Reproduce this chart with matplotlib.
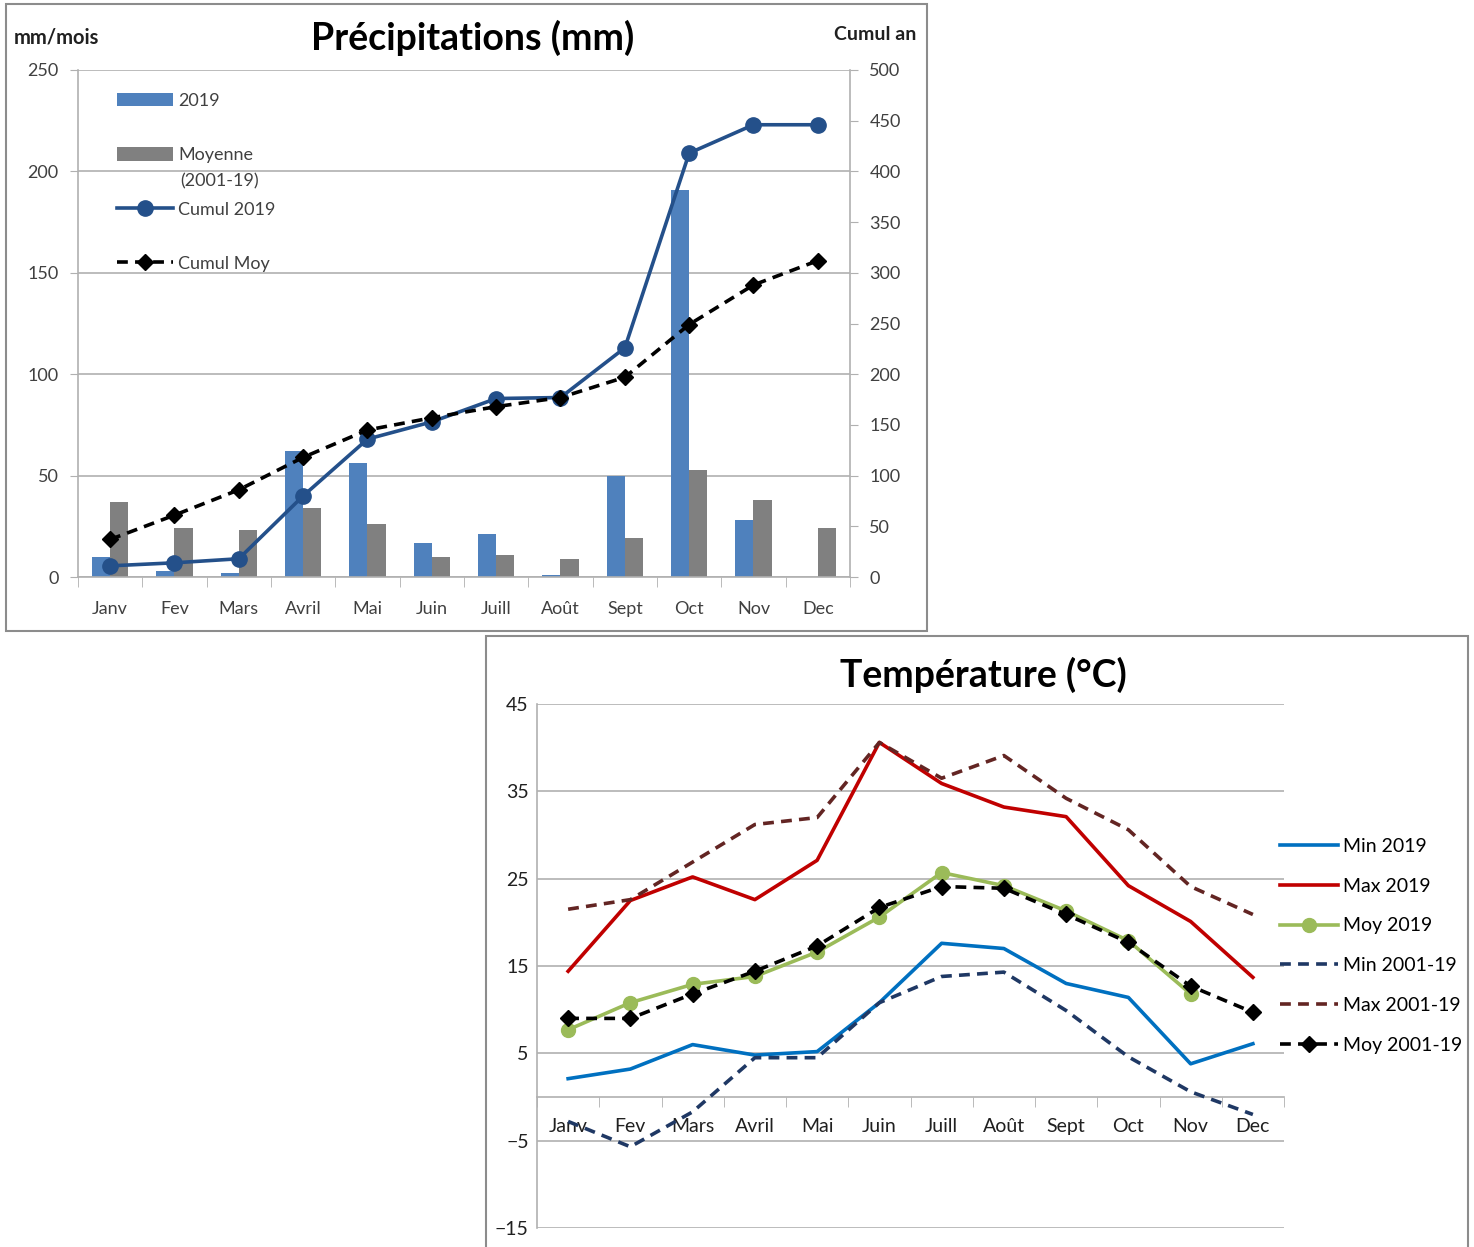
import numpy as np
import matplotlib
matplotlib.use('Agg')
import matplotlib.pyplot as plt
from matplotlib.patches import Rectangle

plt.rcParams['font.family'] = ['Lato', 'DejaVu Sans']

mois = ['Janv', 'Fev', 'Mars', 'Avril', 'Mai', 'Juin', 'Juill', 'Août', 'Sept', 'Oct', 'Nov', 'Dec']

# precipitations (mm/mois)
pluie_2019 = [10, 3, 2, 62, 56, 17, 21, 1, 50, 191, 28, 0]
pluie_moy = [37, 24, 23, 34, 26, 10, 11, 9, 19, 53, 38, 24]
# cumul annuel (axe droit)
cumul_2019 = [11, 14, 18, 80, 136, 153, 176, 177, 226, 418, 446, 446]
cumul_moy = [37, 61, 86, 118, 145, 157, 168, 177, 197, 249, 288, 312]

# temperatures (°C)
tmin_2019 = [2.1, 3.2, 6.0, 4.8, 5.2, 10.8, 17.6, 17.0, 13.0, 11.4, 3.8, 6.1]
tmax_2019 = [14.4, 22.5, 25.2, 22.6, 27.1, 40.6, 35.9, 33.2, 32.1, 24.2, 20.1, 13.7]
tmoy_2019 = [7.7, 10.8, 12.9, 13.8, 16.6, 20.6, 25.7, 24.2, 21.3, 17.9, 11.8, np.nan]
tmin_moy = [-2.8, -5.7, -1.7, 4.5, 4.5, 10.8, 13.8, 14.3, 9.9, 4.6, 0.6, -2.0]
tmax_moy = [21.5, 22.6, 26.9, 31.2, 32.0, 40.6, 36.5, 39.1, 34.2, 30.6, 24.1, 20.9]
tmoy_moy = [9.0, 9.0, 11.8, 14.4, 17.3, 21.7, 24.1, 23.9, 20.9, 17.7, 12.7, 9.7]

W, H = 1474, 1247
fig = plt.figure(figsize=(W / 100, H / 100), dpi=100)

def fx(px):
    return px / W

def fy(py):
    return 1 - py / H

# chart frames
fig.patches.append(Rectangle((fx(6), fy(631)), fx(921), 627 / H, transform=fig.transFigure,
                             fill=False, edgecolor='#8c8c8c', lw=1.5))
fig.patches.append(Rectangle((fx(486), fy(1250)), fx(982), 614 / H, transform=fig.transFigure,
                             fill=False, edgecolor='#8c8c8c', lw=1.5))

grid_c = '#b0b0b0'
x = np.arange(len(mois))

# ---------------- Precipitations ----------------
ax = fig.add_axes([fx(78), fy(577), fx(772), 507 / H])
bw = 0.28
b1 = ax.bar(x - bw / 2, pluie_2019, bw, color='#4F81BD', label='2019', zorder=2)
b2 = ax.bar(x + bw / 2, pluie_moy, bw, color='#808080', label='Moyenne', zorder=2)
ax.set_xlim(-0.5, 11.5)
ax.set_ylim(0, 250)
ax.set_yticks(range(0, 251, 50))
ax.yaxis.grid(True, color=grid_c, lw=1.2)
ax.set_axisbelow(True)
ax.set_xticks(x)
ax.set_xticklabels(mois)
ax.set_xticks(np.arange(-0.5, 12, 1), minor=True)
ax.tick_params(axis='x', which='major', length=0, pad=17, labelsize=13, labelcolor='#404040')
ax.tick_params(axis='x', which='minor', length=7, color=grid_c, direction='out')
ax.tick_params(axis='y', length=6, color=grid_c, labelsize=13, labelcolor='#404040', pad=8)
for s in ['top', 'right']:
    ax.spines[s].set_visible(False)
for s in ['left', 'bottom']:
    ax.spines[s].set_color(grid_c)
    ax.spines[s].set_linewidth(1.2)

ax2 = ax.twinx()
l1, = ax2.plot(x, cumul_2019, color='#24508A', lw=2.6, marker='o', ms=11, label='Cumul 2019', zorder=3)
l2, = ax2.plot(x, cumul_moy, color='black', lw=2.6, ls=(0, (3, 2)), marker='D', ms=8.5,
               label='Cumul Moy', zorder=4)
ax2.set_ylim(0, 500)
ax2.set_yticks(range(0, 501, 50))
ax2.tick_params(axis='y', length=6, color=grid_c, labelsize=13, labelcolor='#404040', pad=8)
for s in ['top', 'left', 'bottom']:
    ax2.spines[s].set_visible(False)
ax2.spines['right'].set_color(grid_c)
ax2.spines['right'].set_linewidth(1.2)

leg = ax2.legend([b1, b2, l1, l2], ['2019', 'Moyenne', 'Cumul 2019', 'Cumul Moy'],
                 loc='upper left', bbox_to_anchor=(fx(117), fy(93)), bbox_transform=fig.transFigure,
                 frameon=False, fontsize=13, borderpad=0, borderaxespad=0,
                 handlelength=3.1, handleheight=0.75, handletextpad=0.3, labelspacing=2.12)
for t in leg.get_texts():
    t.set_color('#404040')
ax2.text(fx(180), fy(181), '(2001-19)', transform=fig.transFigure, fontsize=13,
         color='#404040', va='center', ha='left')

fig.text(fx(473), fy(38), 'Précipitations (mm)', fontsize=27, fontweight='bold', ha='center', va='center')
fig.text(fx(14), fy(38), 'mm/mois', fontsize=14.5, fontweight='bold', ha='left', va='center', color='#202020')
fig.text(fx(916), fy(34), 'Cumul an', fontsize=14, fontweight='bold', ha='right', va='center', color='#202020')

# ---------------- Temperature ----------------
axt = fig.add_axes([fx(537), fy(1228), fx(747), 524 / H])
axt.plot(x, tmin_2019, color='#0070C0', lw=2.6, label='Min 2019', zorder=3)
axt.plot(x, tmax_2019, color='#C00000', lw=2.6, label='Max 2019', zorder=3)
axt.plot(x, tmoy_2019, color='#9BBB59', lw=2.6, marker='o', ms=10, label='Moy 2019', zorder=4)
axt.plot(x, tmin_moy, color='#1F3864', lw=2.6, ls=(0, (3, 2)), label='Min 2001-19', zorder=3)
axt.plot(x, tmax_moy, color='#632523', lw=2.6, ls=(0, (3, 2)), label='Max 2001-19', zorder=3)
axt.plot(x, tmoy_moy, color='black', lw=2.6, ls=(0, (3, 2)), marker='D', ms=8.5,
         label='Moy 2001-19', zorder=5)
axt.set_xlim(-0.5, 11.5)
axt.set_ylim(-15, 45)
axt.set_yticks(range(-15, 46, 10))
axt.yaxis.grid(True, color=grid_c, lw=1.2)
axt.set_axisbelow(True)
axt.set_xticks(x)
axt.set_xticklabels(mois)
axt.set_xticks(np.arange(-0.5, 12, 1), minor=True)
axt.spines['bottom'].set_position(('data', 0))
axt.tick_params(axis='x', which='major', length=0, pad=15, labelsize=14, labelcolor='#202020')
axt.tick_params(axis='x', which='minor', length=7, color=grid_c, direction='out')
axt.tick_params(axis='y', length=0, labelsize=14, labelcolor='#202020', pad=6)
for s in ['top', 'right']:
    axt.spines[s].set_visible(False)
for s in ['left', 'bottom']:
    axt.spines[s].set_color(grid_c)
    axt.spines[s].set_linewidth(1.2)

legt = axt.legend(loc='upper left', bbox_to_anchor=(fx(1280), fy(838)), bbox_transform=fig.transFigure,
                  frameon=False, fontsize=14, borderpad=0, borderaxespad=0,
                  handlelength=3.0, handletextpad=0.25, labelspacing=1.17)

fig.text(fx(983), fy(675), 'Température (°C)', fontsize=27, fontweight='bold', ha='center', va='center')

fig.savefig('out.png', dpi=100)
